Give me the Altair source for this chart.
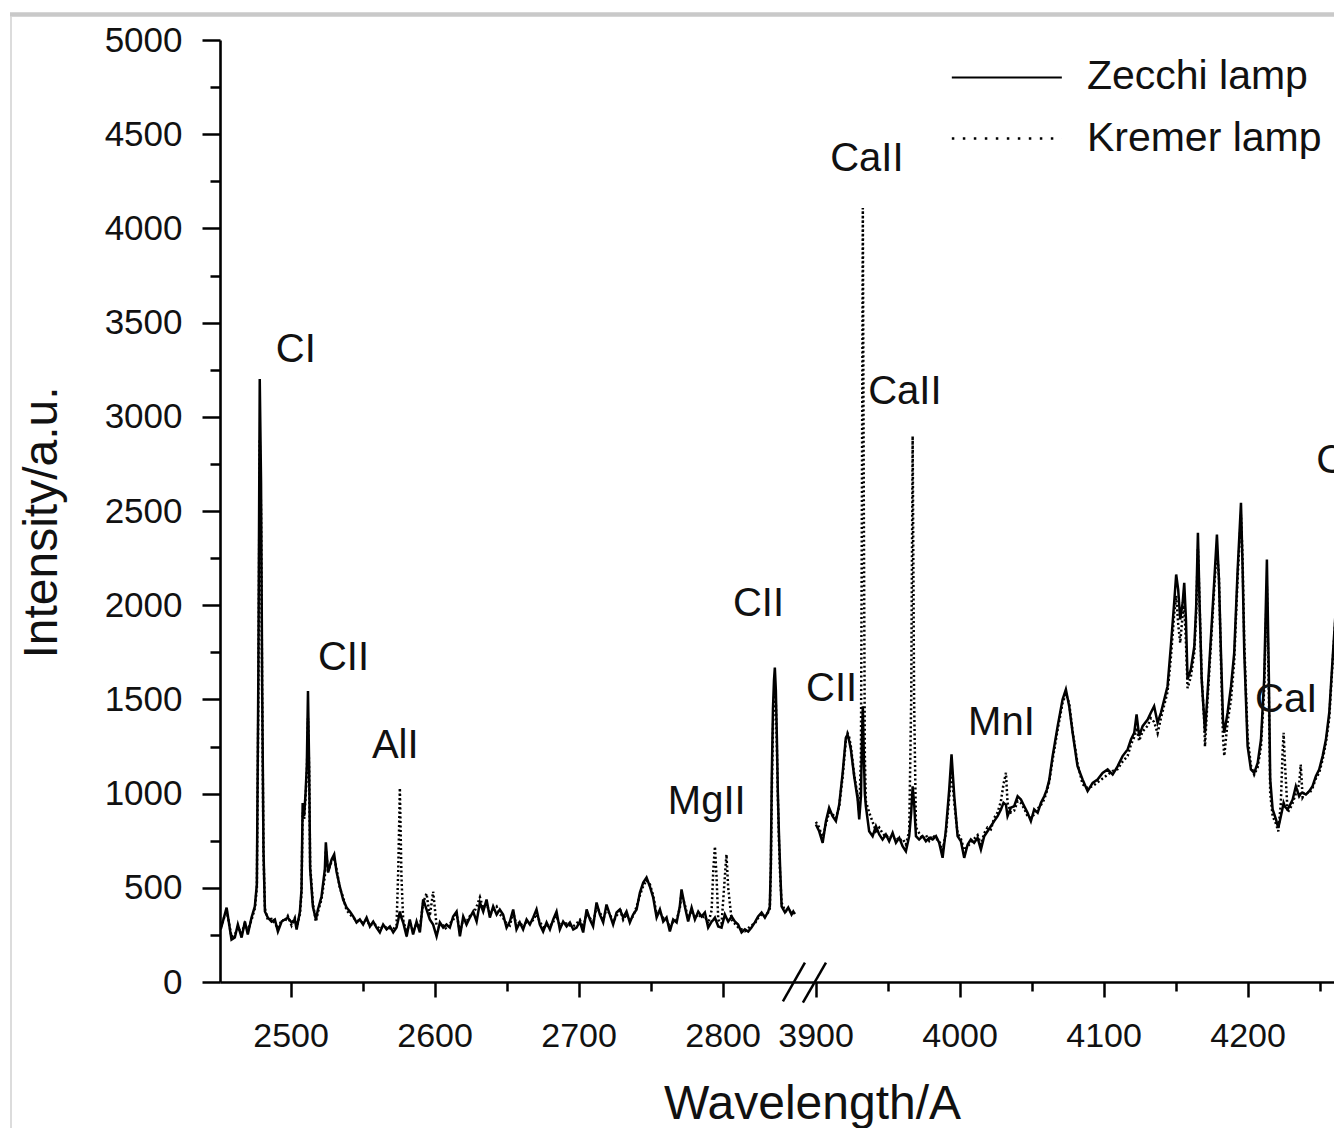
import altair as alt
import pandas as pd

# ---------------- data ----------------
# left part of the broken wavelength axis (Angstrom)
left_wl = [2451.5, 2455.6, 2459.0, 2461.3, 2463.4, 2466.0, 2468.3, 2470.3, 2472.9, 2475.2,
           2476.6, 2477.6, 2478.6, 2479.5, 2480.3, 2481.2, 2482.2, 2484.2, 2486.8, 2489.1,
           2491.2, 2493.8, 2496.0, 2498.1, 2500.7, 2503.0, 2504.2, 2506.5, 2507.6, 2508.4,
           2509.4, 2510.4, 2511.3, 2512.1, 2512.9, 2513.6, 2515.5, 2517.6, 2519.0, 2521.5,
           2523.8, 2524.5, 2526.1, 2528.5, 2530.3, 2531.9, 2534.2, 2536.5, 2538.9, 2541.2,
           2543.5, 2545.8, 2548.1, 2550.4, 2552.8, 2555.1, 2557.4, 2559.7, 2562.0, 2564.3,
           2566.7, 2569.0, 2571.3, 2573.6, 2574.8, 2575.9, 2577.0, 2578.2, 2580.6, 2582.8,
           2585.1, 2587.5, 2589.8, 2592.1, 2594.4, 2596.7, 2599.0, 2601.4, 2603.7, 2606.0,
           2608.3, 2610.6, 2612.9, 2615.3, 2617.6, 2619.9, 2622.2, 2624.5, 2626.8, 2629.2,
           2631.5, 2633.8, 2636.1, 2638.4, 2640.7, 2643.1, 2645.3, 2647.6, 2650.0, 2652.3,
           2654.6, 2656.9, 2659.2, 2661.5, 2663.9, 2666.2, 2668.5, 2670.8, 2673.1, 2675.4,
           2677.8, 2680.1, 2682.4, 2684.7, 2687.0, 2689.3, 2691.7, 2694.0, 2696.3, 2698.6,
           2700.9, 2703.2, 2705.6, 2707.9, 2710.1, 2712.5, 2714.8, 2717.1, 2719.4, 2721.7,
           2724.0, 2726.4, 2728.7, 2731.0, 2733.3, 2735.6, 2737.9, 2740.3, 2742.6, 2744.9,
           2747.2, 2749.5, 2751.8, 2754.2, 2756.5, 2758.8, 2761.1, 2763.4, 2765.7, 2768.1,
           2770.3, 2771.5, 2773.8, 2776.1, 2778.5, 2780.8, 2783.1, 2785.4, 2787.7, 2790.0,
           2792.4, 2793.6, 2794.7, 2795.8, 2797.0, 2799.3, 2801.6, 2802.7, 2803.9, 2806.3,
           2808.5, 2810.8, 2813.2, 2815.5, 2817.8, 2820.1, 2822.4, 2824.7, 2827.1, 2829.4,
           2831.7, 2832.8, 2833.5, 2834.2, 2835.0, 2835.7, 2836.3, 2837.0, 2837.7, 2838.4,
           2839.1, 2840.0, 2841.0, 2843.3, 2845.6, 2847.9, 2849.1, 2850.2]
left_zecchi = [279, 395, 225, 236, 305, 236, 321, 252, 342, 401,
               520, 1600, 3200, 2650, 1560, 700, 374, 342, 321, 332,
               268, 321, 332, 342, 316, 332, 279, 374, 491, 950,
               880, 1000, 1150, 1545, 1150, 600, 401, 332, 385, 454,
               597, 741, 581, 650, 677, 587, 507, 438, 395, 374,
               348, 316, 332, 305, 342, 295, 321, 289, 263, 305,
               279, 295, 263, 289, 330, 374, 340, 316, 242, 332,
               252, 321, 263, 438, 385, 332, 305, 242, 316, 289,
               305, 289, 348, 374, 242, 348, 305, 342, 374, 321,
               422, 374, 438, 342, 401, 358, 385, 358, 289, 321,
               385, 279, 316, 279, 332, 305, 342, 385, 305, 268,
               316, 279, 332, 374, 279, 321, 295, 316, 279, 289,
               321, 263, 385, 332, 295, 422, 358, 316, 411, 358,
               305, 369, 385, 342, 374, 316, 358, 385, 475, 528,
               555, 507, 449, 342, 385, 321, 342, 268, 332, 316,
               401, 491, 401, 321, 395, 332, 374, 348, 369, 289,
               321, 330, 342, 320, 295, 289, 358, 340, 321, 348,
               321, 305, 263, 279, 268, 289, 316, 348, 369, 342,
               374, 400, 620, 1100, 1450, 1600, 1669, 1550, 1300, 1000,
               800, 600, 401, 369, 395, 358, 374, 360]
left_kremer = [290, 380, 240, 250, 290, 260, 310, 270, 330, 390,
               500, 1450, 2880, 2500, 1500, 680, 390, 330, 335, 310,
               285, 330, 320, 350, 300, 340, 290, 360, 470, 900,
               860, 980, 1100, 1400, 1120, 620, 420, 320, 370, 440,
               560, 700, 590, 640, 660, 600, 500, 450, 380, 360,
               340, 330, 320, 315, 330, 300, 310, 300, 280, 295,
               290, 285, 280, 300, 600, 1030, 560, 330, 260, 320,
               270, 310, 290, 420, 470, 350, 480, 300, 290, 300,
               280, 310, 330, 360, 270, 330, 320, 350, 360, 400,
               450, 390, 420, 360, 380, 400, 360, 340, 310, 300,
               370, 300, 320, 290, 320, 310, 330, 360, 320, 290,
               300, 295, 320, 350, 300, 310, 310, 300, 295, 310,
               330, 290, 360, 340, 310, 400, 370, 330, 390, 360,
               320, 350, 390, 330, 360, 330, 350, 400, 460, 510,
               540, 520, 460, 360, 370, 340, 330, 290, 320, 330,
               390, 470, 410, 340, 380, 340, 360, 340, 350, 310,
               380, 600, 719, 560, 330, 310, 560, 677, 500, 330,
               310, 290, 280, 270, 285, 300, 310, 340, 360, 350,
               370, 390, 580, 1000, 1350, 1500, 1560, 1480, 1250, 980,
               760, 560, 420, 380, 370, 380, 360, 370]

# right part of the broken wavelength axis (Angstrom)
right_wl = [3900.2, 3902.5, 3904.9, 3907.2, 3909.4, 3911.8, 3914.1, 3916.4, 3918.8, 3921.0,
            3922.2, 3923.3, 3924.5, 3926.8, 3929.2, 3930.3, 3931.5, 3932.2, 3932.8, 3933.5,
            3934.2, 3934.9, 3937.2, 3939.6, 3941.9, 3944.2, 3946.5, 3948.8, 3951.1, 3953.5,
            3955.8, 3958.1, 3960.4, 3962.7, 3965.0, 3966.4, 3967.4, 3968.4, 3969.7, 3971.9,
            3974.3, 3976.6, 3978.9, 3981.3, 3983.6, 3985.8, 3988.2, 3990.5, 3992.8, 3994.4,
            3996.3, 3998.6, 4000.9, 4003.2, 4005.6, 4007.8, 4010.1, 4012.5, 4014.8, 4017.1,
            4019.4, 4021.7, 4024.0, 4026.4, 4028.7, 4030.5, 4032.2, 4033.3, 4035.6, 4037.9,
            4040.3, 4042.6, 4044.9, 4047.2, 4049.5, 4051.8, 4054.2, 4056.5, 4058.8, 4060.5,
            4062.2, 4064.6, 4068.1, 4071.5, 4073.8, 4076.1, 4078.5, 4081.9, 4085.4, 4088.9,
            4092.4, 4095.8, 4099.3, 4102.8, 4106.3, 4109.7, 4113.2, 4116.7, 4119.0, 4121.3,
            4122.9, 4124.7, 4127.1, 4130.6, 4132.8, 4135.1, 4137.5, 4139.8, 4142.1, 4144.4,
            4146.7, 4149.0, 4150.4, 4151.8, 4153.2, 4154.9, 4156.0, 4157.2, 4158.3, 4160.6,
            4163.0, 4164.3, 4165.5, 4166.7, 4168.1, 4169.9, 4170.4, 4172.2, 4175.0, 4176.9,
            4178.7, 4180.1, 4181.5, 4182.9, 4183.8, 4186.1, 4188.5, 4190.7, 4193.1, 4195.4,
            4196.5, 4197.7, 4200.0, 4202.3, 4204.6, 4207.0, 4209.3, 4211.5, 4213.4, 4214.8,
            4215.7, 4217.4, 4219.7, 4221.3, 4223.1, 4224.2, 4225.0, 4226.0, 4227.8, 4229.5,
            4231.3, 4233.5, 4235.8, 4236.9, 4238.2, 4240.5, 4242.8, 4245.1, 4247.4, 4249.7,
            4252.1, 4254.4, 4256.7, 4259.0, 4261.0, 4263.0]
right_zecchi = [836, 800, 739, 854, 925, 880, 854, 942, 1110, 1296,
                1314, 1280, 1234, 1092, 969, 863, 986, 1300, 1464, 1200,
                1000, 933, 800, 774, 827, 783, 756, 783, 747, 792,
                739, 765, 721, 694, 774, 900, 1039, 950, 774, 756,
                774, 747, 765, 756, 774, 739, 659, 809, 1022, 1208,
                986, 774, 747, 659, 730, 756, 739, 765, 703, 774,
                800, 827, 854, 880, 916, 951, 940, 880, 925, 933,
                986, 969, 933, 898, 854, 916, 898, 951, 986, 1020,
                1070, 1199, 1358, 1499, 1553, 1464, 1323, 1145, 1075, 1013,
                1057, 1075, 1110, 1128, 1101, 1145, 1199, 1234, 1287, 1323,
                1420, 1305, 1358, 1393, 1429, 1464, 1376, 1429, 1499, 1570,
                1782, 2013, 2163, 2083, 1924, 2013, 2119, 1924, 1606, 1659,
                1782, 1995, 2384, 1995, 1606, 1393, 1323, 1535, 1889, 2136,
                2375, 2136, 1747, 1393, 1323, 1429, 1570, 1747, 2189, 2543,
                2207, 1747, 1252, 1128, 1110, 1163, 1287, 1606, 2243, 1606,
                1075, 916, 863, 818, 880, 920, 951, 930, 916, 940,
                969, 1039, 986, 1000, 1004, 995, 1013, 1039, 1092, 1128,
                1199, 1287, 1429, 1712, 1950, 2200]
right_kremer = [850, 820, 760, 840, 900, 890, 870, 930, 1090, 1280,
                1320, 1300, 1250, 1100, 990, 900, 1200, 2600, 4108, 2500,
                1200, 960, 900, 850, 800, 820, 790, 770, 780, 760,
                770, 750, 760, 730, 800, 1500, 2897, 1500, 820, 790,
                760, 780, 750, 780, 760, 750, 700, 790, 980, 1120,
                950, 790, 760, 700, 720, 740, 760, 780, 730, 790,
                820, 810, 870, 900, 960, 1050, 1110, 950, 900, 910,
                960, 950, 920, 880, 870, 890, 920, 940, 970, 1010,
                1060, 1180, 1340, 1480, 1530, 1480, 1330, 1160, 1050, 1030,
                1040, 1060, 1080, 1100, 1120, 1130, 1170, 1200, 1260, 1300,
                1350, 1280, 1330, 1360, 1400, 1380, 1320, 1400, 1470, 1540,
                1720, 1950, 2050, 1900, 1800, 1950, 2000, 1800, 1560, 1620,
                1750, 1950, 2300, 2000, 1620, 1380, 1250, 1500, 1850, 2100,
                2300, 2150, 1700, 1300, 1200, 1380, 1500, 1700, 2150, 2480,
                2250, 1800, 1300, 1150, 1100, 1140, 1250, 1550, 2100, 1500,
                1000, 880, 840, 800, 950, 1200, 1323, 1150, 900, 920,
                950, 1000, 1050, 1154, 980, 1010, 1000, 1030, 1080, 1110,
                1180, 1270, 1400, 1690, 1930, 2180]

# axis ticks (wavelengths)
x_tick_wl = [2500, 2550, 2600, 2650, 2700, 2750, 2800,
             3900, 3950, 4000, 4050, 4100, 4150, 4200, 4250]
y_tick_values = list(range(0, 5001, 250))

# peak labels: text, wavelength, intensity position
ann_text = ["CI", "CII", "AlI", "MgII", "CII", "CII", "CaII", "CaII", "MnI", "CaI", "CH"]
ann_wl = [2489.8, 2519.0, 2556.5, 2762.0, 2807.2, 3893.4, 3910.1, 3936.5, 4005.9, 4205.2, 4247.6]
ann_int = [3357, 1722, 1255, 953, 2004, 1553, 4366, 3129, 1377, 1499, 2763]

lamps = ["Zecchi lamp", "Kremer lamp"]

# ---------------- broken axis helper ----------------
BREAK_SHIFT = 1035.4      # the right part is moved left by this amount
BREAK_AT = 2855.0


def to_axis(w):
    return w - BREAK_SHIFT if w > 3000 else w


rows = []
for wl, z, k in [(left_wl, left_zecchi, left_kremer), (right_wl, right_zecchi, right_kremer)]:
    seg = "L" if wl[0] < 3000 else "R"
    for w, a, b in zip(wl, z, k):
        rows.append({"u": to_axis(w), "I": a, "lamp": lamps[0], "seg": seg})
        rows.append({"u": to_axis(w), "I": b, "lamp": lamps[1], "seg": seg})
df = pd.DataFrame(rows)

ann_df = pd.DataFrame({"u": [to_axis(w) for w in ann_wl], "I": ann_int, "t": ann_text})

FONT = "Liberation Sans"
XMIN, XMAX = 2451.0, 3224.6

xs = alt.Scale(domain=[XMIN, XMAX], nice=False, zero=False)
ys = alt.Scale(domain=[0, 5000], nice=False, zero=True)

wl_expr = f"(datum.value > {BREAK_AT} ? datum.value + {BREAK_SHIFT} : datum.value)"
x_major = f"round({wl_expr}) % 100 === 0"

x_axis = alt.Axis(
    values=[to_axis(w) for w in x_tick_wl],
    labelExpr=f"{x_major} ? format(round({wl_expr}), 'd') : ''",
    tickSize={"condition": {"test": x_major, "value": 15}, "value": 9},
    tickWidth=2.5, tickColor="black", domainWidth=2.6, domainColor="black",
    labelFont=FONT, labelFontSize=34, labelColor="#111", labelPadding=22,
    labelOverlap=False, labelFlush=False, grid=False,
    title="Wavelength/A", titleFont=FONT, titleFontSize=48, titleFontWeight="normal",
    titleColor="#111", titleX=592, titleY=136, titleAlign="center", titleBaseline="alphabetic",
)
y_axis = alt.Axis(
    values=y_tick_values, format="d",
    labelExpr="datum.value % 500 === 0 ? datum.label : ''",
    tickSize={"condition": {"test": "datum.value % 500 === 0", "value": 18}, "value": 10},
    tickWidth=2.5, tickColor="black", domainWidth=2.6, domainColor="black",
    labelFont=FONT, labelFontSize=35, labelColor="#111", labelPadding=20,
    labelOverlap=False, labelFlush=False, grid=False,
    title="Intensity/a.u.", titleFont=FONT, titleFontSize=48, titleFontWeight="normal",
    titleColor="#111", titleAngle=270, titleX=-164, titleY=482, titleAlign="center",
    titleBaseline="alphabetic",
)

base = alt.Chart(df)

kremer = base.transform_filter(alt.datum.lamp == lamps[1]).mark_line(
    color="black", strokeWidth=2.5, strokeDash=[2, 2.5], clip=True
).encode(
    x=alt.X("u:Q", scale=xs, axis=x_axis),
    y=alt.Y("I:Q", scale=ys, axis=y_axis),
    detail="seg:N",
    order="u:Q",
)
zecchi = base.transform_filter(alt.datum.lamp == lamps[0]).mark_line(
    color="black", strokeWidth=2.5, clip=True
).encode(
    x=alt.X("u:Q", scale=xs),
    y=alt.Y("I:Q", scale=ys),
    detail="seg:N",
    order="u:Q",
)

labels = alt.Chart(ann_df).mark_text(
    font=FONT, fontSize=40, align="left", baseline="middle", color="#111"
).encode(x=alt.X("u:Q", scale=xs), y=alt.Y("I:Q", scale=ys), text="t:N")

# legend drawn in data space (top right)
leg_df = pd.DataFrame({"lamp": lamps, "x1": [2959.2, 2959.2], "x2": [3035.6, 3035.6],
                       "y": [4801, 4477], "tx": [3053.0, 3053.0]})
leg_solid = alt.Chart(leg_df).transform_filter(alt.datum.lamp == lamps[0]).mark_rule(
    color="black", strokeWidth=2.2
).encode(x=alt.X("x1:Q", scale=xs), x2="x2:Q", y=alt.Y("y:Q", scale=ys))
leg_dot = alt.Chart(leg_df).transform_filter(alt.datum.lamp == lamps[1]).mark_rule(
    color="black", strokeWidth=2.4, strokeDash=[2.5, 8.5]
).encode(x=alt.X("x1:Q", scale=xs), x2="x2:Q", y=alt.Y("y:Q", scale=ys))
leg_txt = alt.Chart(leg_df).mark_text(
    font=FONT, fontSize=41, align="left", baseline="middle", color="#111"
).encode(x=alt.X("tx:Q", scale=xs), y=alt.Y("y:Q", scale=ys), text="lamp:N")

# axis break marks "//"
brk_df = pd.DataFrame({"x1": [2841.9, 2855.8], "x2": [2857.2, 2871.8],
                       "y1": [-103, -110], "y2": [103, 103]})
brk = alt.Chart(brk_df).mark_rule(color="black", strokeWidth=2.5).encode(
    x=alt.X("x1:Q", scale=xs), x2="x2:Q", y=alt.Y("y1:Q", scale=ys), y2="y2:Q"
)

# light grey frame of the original picture
one = pd.DataFrame({"k": [0]})
frame_top = alt.Chart(one).mark_rule(color="#c9c9c9", strokeWidth=4.5).encode(
    x=alt.value(-210), x2=alt.value(1114), y=alt.value(-25.5))
frame_left = alt.Chart(one).mark_rule(color="#dcdcdc", strokeWidth=2).encode(
    x=alt.value(-209), y=alt.value(-23), y2=alt.value(1094))

chart = alt.layer(
    frame_top, frame_left, kremer, zecchi, labels, leg_solid, leg_dot, leg_txt, brk
).properties(
    width=1114, height=942,
    padding={"left": 220, "top": 40, "right": 0, "bottom": 146},
    autosize=alt.AutoSizeParams(type="none"),
    background="white",
).configure_view(stroke=None)

chart.save("out.html", embed_options={"renderer": "svg", "actions": False})
